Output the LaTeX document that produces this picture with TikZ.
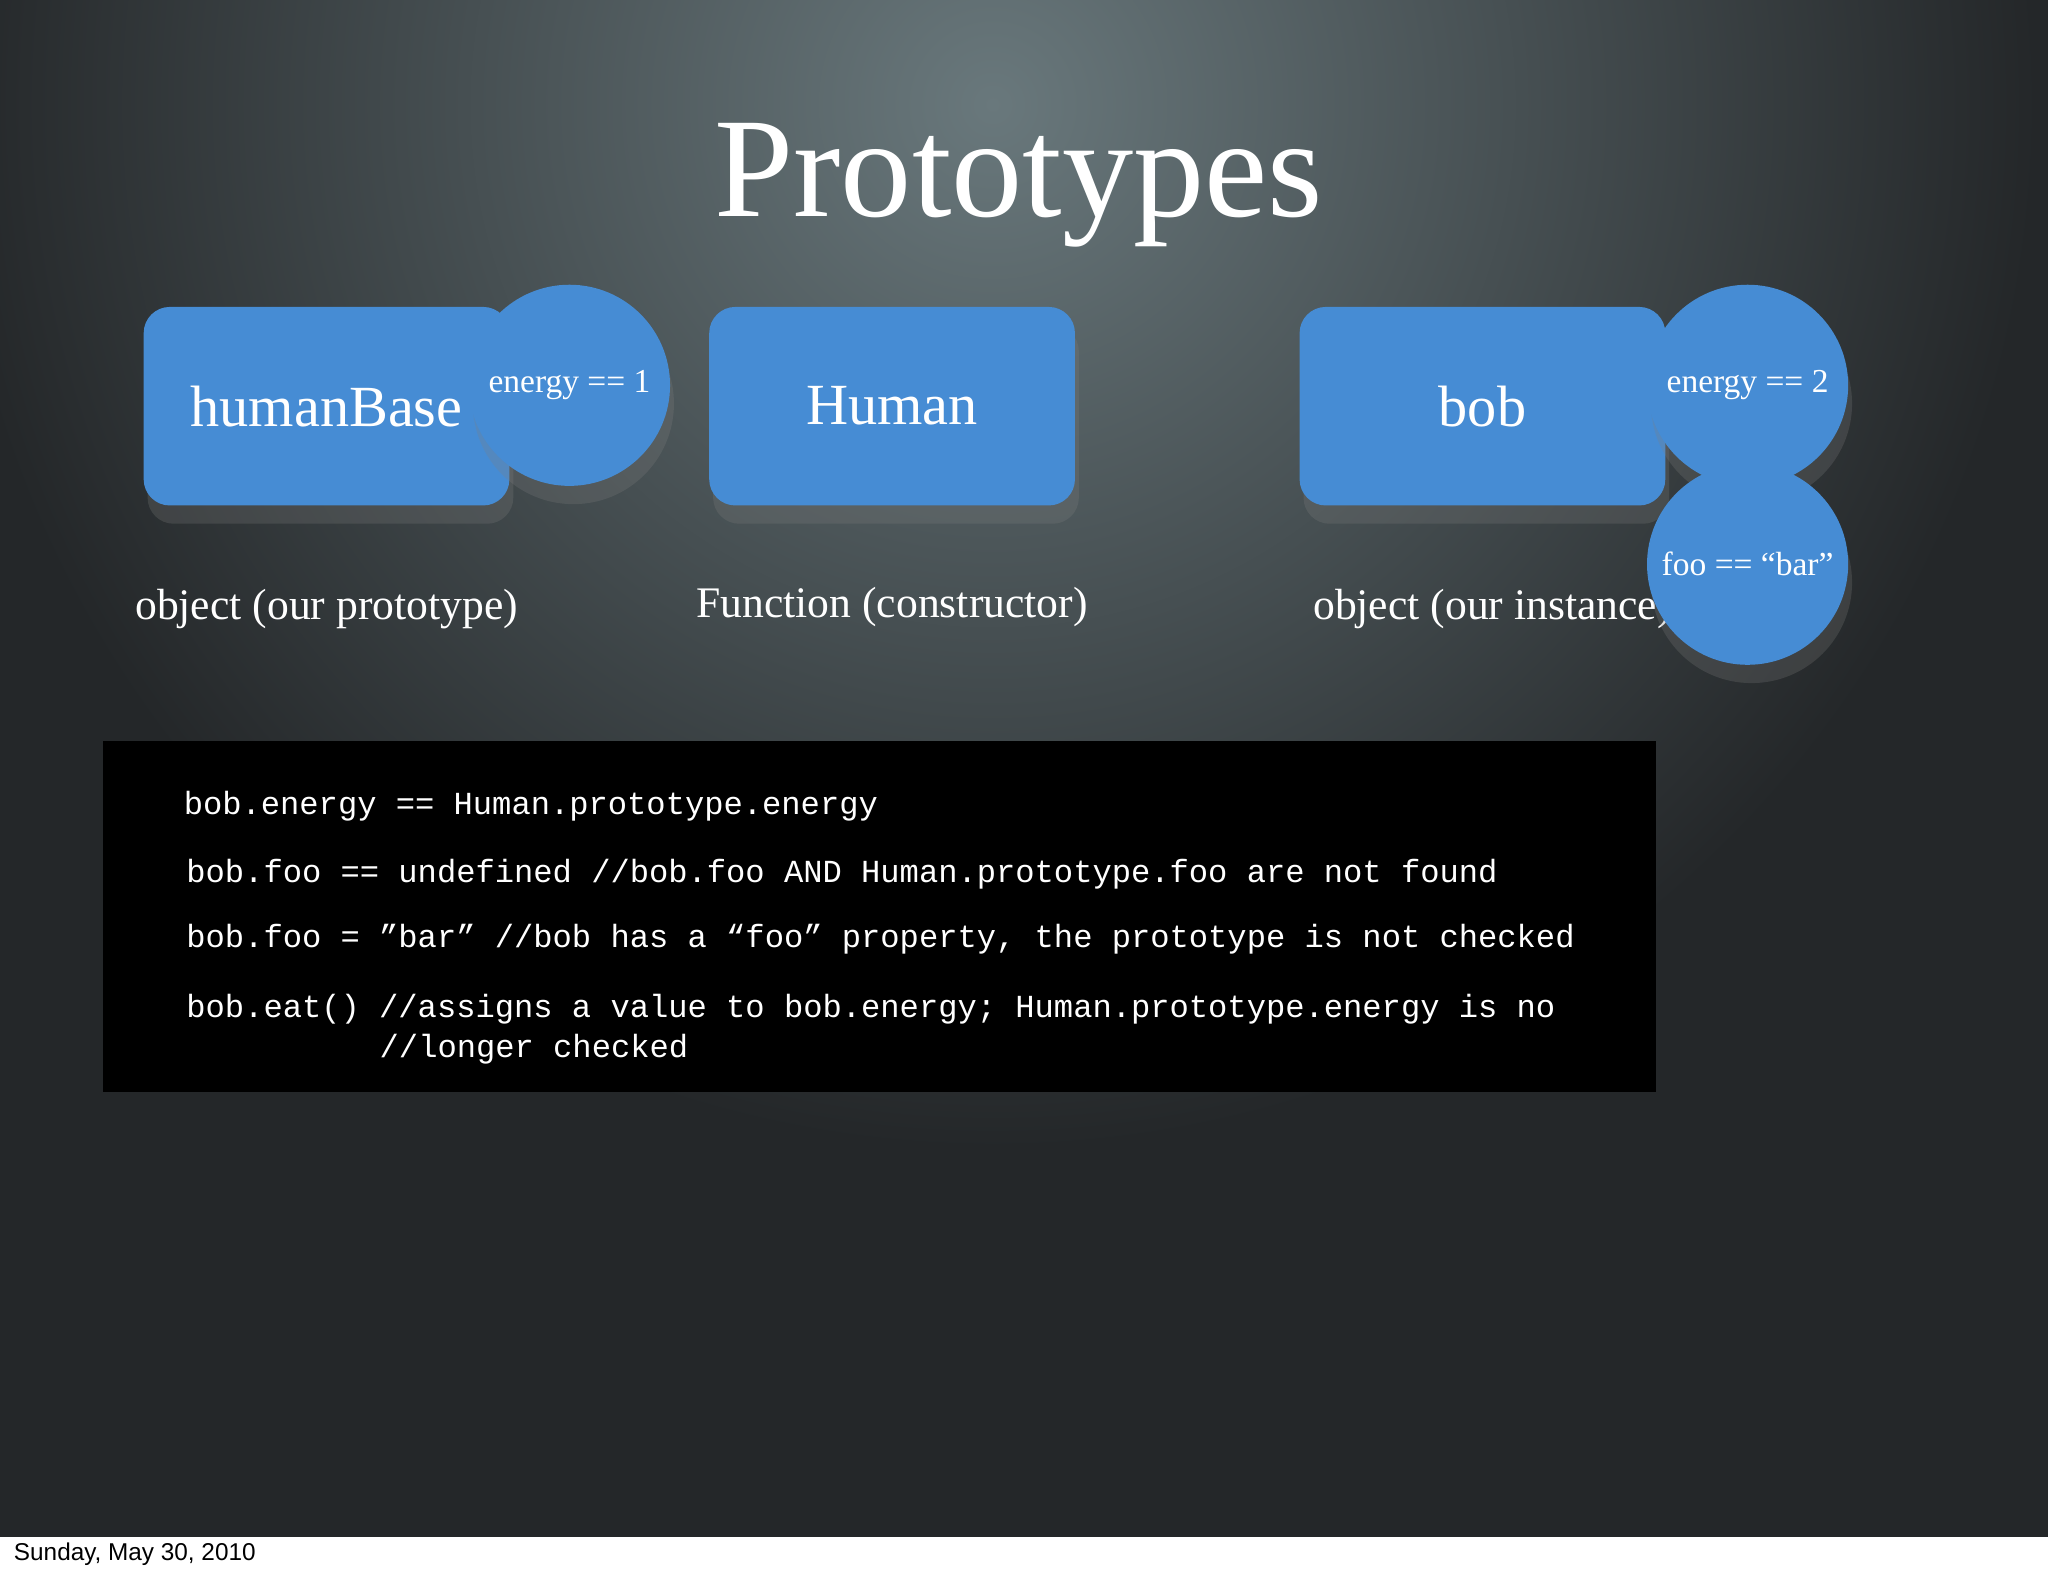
\documentclass[tikz,border=0pt]{standalone}
\usepackage{fontspec}
\setmainfont{Liberation Serif}
\setsansfont{Liberation Sans}
\setmonofont{Liberation Mono}
\usetikzlibrary{shadows}
\definecolor{slideblue}{RGB}{70,140,212}
\definecolor{bgdark}{RGB}{36,39,41}
\definecolor{bglight}{RGB}{105,120,124}
\tikzset{
	objbox/.style={fill=slideblue,rounded corners=2mm,minimum width=28mm,minimum height=15.2mm,text=white,font=\fontsize{12.7}{15}\selectfont,drop shadow={shadow xshift=0.3mm,shadow yshift=-1.4mm,opacity=0.25}},
	propcirc/.style={circle,fill=slideblue,minimum size=15.4mm,inner sep=0pt,text=white,font=\fontsize{7.3}{9}\selectfont,drop shadow={shadow xshift=0.3mm,shadow yshift=-1.4mm,opacity=0.25}},
	caption/.style={text=white,font=\fontsize{9.5}{11}\selectfont},
	codeline/.style={anchor=west,text=white,font=\ttfamily\fontsize{7}{9}\selectfont,inner sep=0pt}
}
\begin{document}
\begin{tikzpicture}[x=0.1mm,y=-0.1mm]
	\useasboundingbox (0,0) rectangle (1568,1206);
	% background
	\fill[bgdark] (0,0) rectangle (1568,1177);
	\begin{scope}
		\clip (0,0) rectangle (1568,1177);
		\shade[inner color=bglight,outer color=bgdark] (760,80) circle (800);
	\end{scope}
	\fill[white] (0,1177) rectangle (1568,1206);
	\node[anchor=west,inner sep=0pt,font=\sffamily\fontsize{5.3}{6}\selectfont] (date) at (10,1190) {Sunday, May 30, 2010};

	\node[text=white,font=\fontsize{31}{35}\selectfont] (title) at (780,142) {Prototypes};

	% objects
	\node[objbox] (base) at (250,311) {};
	\node[objbox] (human) at (683,311) {Human};
	\node[objbox] (bob) at (1135,311) {bob};
	\node[caption] (basecap) at (250,466) {object (our prototype)};
	\node[caption] (humancap) at (683,465) {Function (constructor)};
	\node[caption,anchor=west] (bobcap) at (993,466) {object (our instance)};
	\node[propcirc] (baseenergy) at (436,295) {energy == 1};
	\node[text=white,font=\fontsize{12.7}{15}\selectfont] (basename) at (250,311) {humanBase};
	\node[propcirc] (bobenergy) at (1338,295) {energy == 2};
	\node[propcirc] (bobfoo) at (1338,432) {foo == “bar”};

	% code
	\fill[black] (79,567) rectangle (1268,836);
	\node[codeline] (c1) at (140,617) {bob.energy == Human.prototype.energy};
	\node[codeline] (c2) at (142,669) {bob.foo == undefined //bob.foo AND Human.prototype.foo are not found};
	\node[codeline] (c3) at (142,719) {bob.foo = ”bar” //bob has a “foo” property, the prototype is not checked};
	\node[codeline] (c4) at (142,773) {bob.eat() //assigns a value to bob.energy; Human.prototype.energy is no};
	\node[codeline] (c5) at (290,803) {//longer checked};
\end{tikzpicture}
\end{document}
